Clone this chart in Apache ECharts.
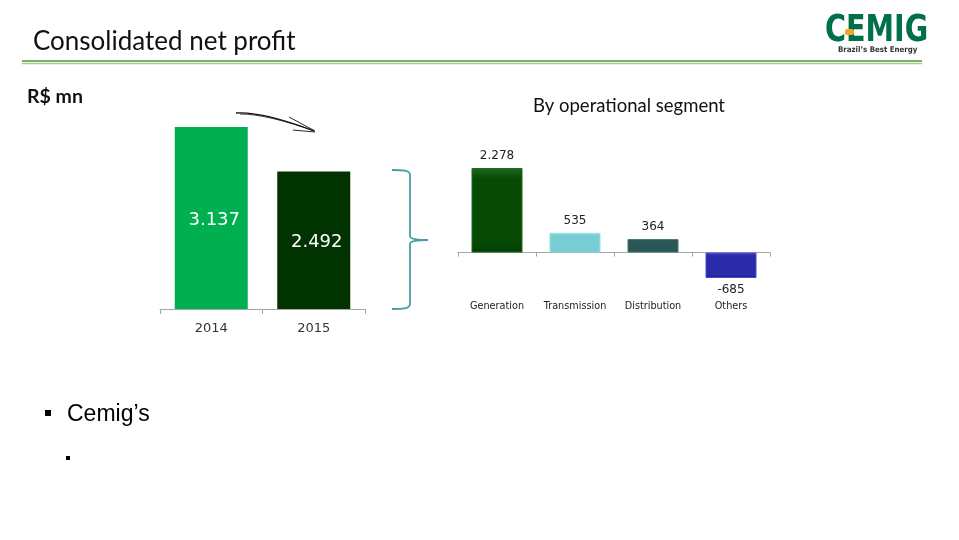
<!DOCTYPE html>
<html><head><meta charset="utf-8">
<script src="https://cdn.jsdelivr.net/npm/echarts@6/dist/echarts.min.js"></script>
<style>html,body{margin:0;padding:0;background:#fff}#c{width:959px;height:540px}</style>
</head><body><div id="c"></div>
<script>
const years = ['2014', '2015'];
const totals = [3137, 2492];
const totalLabels = ['3.137', '2.492'];
const segments = ['Generation', 'Transmission', 'Distribution', 'Others'];
const segmentValues = [2278, 535, 364, -685];
const segmentLabels = ['2.278', '535', '364', '-685'];

const totalColors = ['#00B050', '#003300'];
const segColors = [
  ['#1f6a1f', '#064a06', '#033a03'],
  ['#9ee0e6', '#78ccd4', '#5fb4bd'],
  ['#4a7777', '#2a5656', '#1c4040'],
  ['#4a4ad0', '#2a2aaa', '#1c1c88']
];
function grad(c){
  return {type:'linear',x:0,y:0,x2:0,y2:1,colorStops:[
    {offset:0,color:c[0]},{offset:0.12,color:c[1]},{offset:0.88,color:c[1]},{offset:1,color:c[2]}]};
}
function bz(x1,y1,cx1,cy1,cx2,cy2,x2,y2,stroke,w){
  return {type:'bezierCurve', shape:{x1:x1,y1:y1,cpx1:cx1,cpy1:cy1,cpx2:cx2,cpy2:cy2,x2:x2,y2:y2}, style:{stroke:stroke,lineWidth:w,fill:null}};
}
function ln(x1,y1,x2,y2,stroke,w){
  return {type:'line', shape:{x1:x1,y1:y1,x2:x2,y2:y2}, style:{stroke:stroke,lineWidth:w}};
}
function txt(x,y,t,font,size,fill,weight){
  return {type:'text', x:x, y:y, style:{text:t, fontFamily:font, fontSize:size, fill:fill, fontWeight:weight||'normal', textVerticalAlign:'top'}};
}
const braceC = '#4A9BA3';

const chart = echarts.init(document.getElementById('c'), null, {renderer:'canvas'});
const logo = txt(825, 13, 'CEMIG', 'DejaVu Sans Condensed', 37, '#00704A', 'bold');
logo.scaleX = 0.86;
const option = {
  animation:false,
  backgroundColor:'#ffffff',
  grid:[
    {left:160, width:205, top:127, height:182},
    {left:458, width:312, top:168, height:110}
  ],
  xAxis:[
    {gridIndex:0, type:'category', data:years,
     axisLine:{lineStyle:{color:'#A6A6A6', width:1}},
     axisTick:{show:true, length:5, lineStyle:{color:'#A6A6A6'}},
     axisLabel:{color:'#333', fontFamily:'DejaVu Sans', fontSize:13, margin:13}},
    {gridIndex:1, type:'category', data:segments,
     axisLine:{onZero:true, lineStyle:{color:'#A6A6A6', width:1}},
     axisTick:{show:true, length:4, lineStyle:{color:'#A6A6A6'}},
     axisLabel:{color:'#222', fontFamily:'DejaVu Sans', fontSize:9.7, margin:23, interval:0}}
  ],
  yAxis:[
    {gridIndex:0, type:'value', min:500, max:3137, show:false, splitLine:{show:false}},
    {gridIndex:1, type:'value', min:-685, max:2278, show:false, splitLine:{show:false}}
  ],
  series:[
    {type:'bar', xAxisIndex:0, yAxisIndex:0, barWidth:73,
     data: totals.map((v,i)=>({value:v, itemStyle:{color:totalColors[i]}})),
     label:{show:true, position:'inside', offset:[3,2], color:'#fff', fontFamily:'DejaVu Sans', fontSize:18,
       formatter:p=>totalLabels[p.dataIndex]}},
    {type:'bar', xAxisIndex:1, yAxisIndex:1, barWidth:51,
     data: segmentValues.map((v,i)=>({value:v,
        itemStyle:{color:grad(segColors[i]), borderColor:segColors[i][0], borderWidth:1},
        label:{position: v<0 ? 'bottom' : 'top'}})),
     label:{show:true, color:'#222', fontFamily:'DejaVu Sans', fontSize:12, distance:6,
       formatter:p=>segmentLabels[p.dataIndex]}}
  ],
  graphic:[
    txt(33, 29, 'Consolidated net profit', 'Lato', 26, '#111'),
    ln(22,61,922,61,'#5f8f4a',1.5),
    ln(22,63.5,922,63.5,'#a3cf84',1.5),
    logo,
    {type:'rect', shape:{x:845, y:29, width:9, height:6, r:2}, style:{fill:'#F5A623'}},
    txt(838, 46, 'Brazil’s Best Energy', 'DejaVu Sans Condensed', 7.8, '#333', 'bold'),
    txt(27, 87, 'R$ mn', 'Lato', 19.5, '#111', 'bold'),
    txt(533, 97, 'By operational segment', 'Lato', 18.5, '#111'),
    bz(236,113,252,112,280,118,314,131,'#111',1.3),
    bz(240,114,260,114,285,121,312,130,'#111',0.8),
    ln(289,117,315,131,'#111',0.9),
    ln(293,130,315,132,'#111',0.9),
    bz(392,170,402,170,410,170,410,175,braceC,1.8),
    ln(410,175,410,236,braceC,1.8),
    bz(410,236,410,239,416,240,428,240,braceC,1.8),
    bz(428,240,416,240,410,241,410,244,braceC,1.8),
    ln(410,244,410,304,braceC,1.8),
    bz(410,304,410,309,402,309,392,309,braceC,1.8),
    {type:'rect', shape:{x:45, y:410, width:6, height:6}, style:{fill:'#000'}},
    txt(67, 403, 'Cemig’s', 'Liberation Sans', 23, '#000'),
    {type:'rect', shape:{x:66, y:456, width:4, height:4}, style:{fill:'#000'}}
  ]
};
chart.setOption(option);
</script></body></html>
